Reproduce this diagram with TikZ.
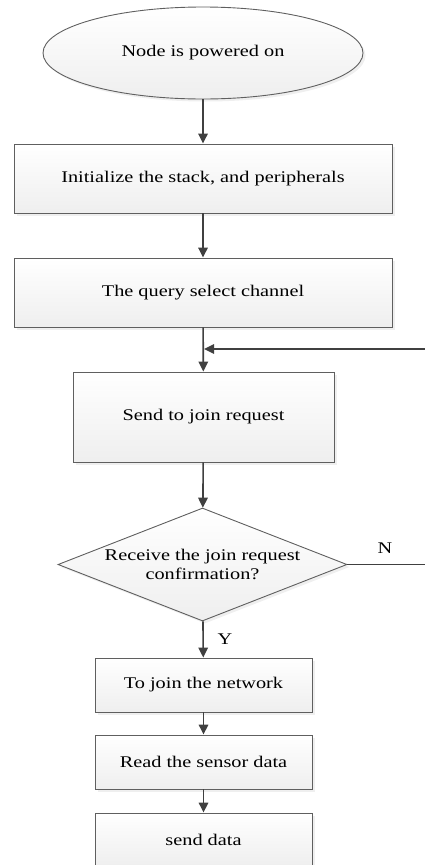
\documentclass[tikz,border=0pt]{standalone}
\usepackage{fontspec}
\setmainfont{Liberation Serif}[FakeStretch=1.245]
\usepackage{tikz}
\usetikzlibrary{shapes.geometric}
\usetikzlibrary{arrows.meta}
\usetikzlibrary{shadows}

\definecolor{linegray}{HTML}{404040}
\definecolor{bordergray}{HTML}{5F5F5F}

\begin{document}
\begin{tikzpicture}[x=1pt,y=-1pt,
    every node/.style={font=\fontsize{16.3}{19}\selectfont},
    box/.style={rectangle, draw=bordergray, line width=0.9pt, inner sep=0pt,
                top color=white, bottom color=gray!13,
                drop shadow={shadow xshift=2.5pt, shadow yshift=-2.5pt, fill=gray!25}},
    startnode/.style={box, ellipse},
    decision/.style={box, diamond, aspect=2.56, align=center},
    arr/.style={draw=linegray, line width=1.6pt, -{Triangle[width=9.5pt,length=10pt]}},
    plain/.style={draw=linegray, line width=1.6pt}]
            \useasboundingbox (0,0) rectangle (425,865);
            \clip (0,0) rectangle (425,865);
            \node[startnode, minimum width=320pt, minimum height=92pt] (start) at (203,53) {Node is powered on};
            \node[box, minimum width=378pt, minimum height=69pt] (init) at (203,178.5) {Initialize the stack, and peripherals};
            \node[box, minimum width=378pt, minimum height=69pt] (query) at (203,292.5) {The query select channel};
            \node[box, minimum width=261pt, minimum height=90pt] (join) at (203.5,417) {Send to join request};
            \node[decision, minimum width=289pt, minimum height=113pt, inner sep=0pt] (check) at (202.5,564.5) {Receive the join request\\confirmation?};
            \node[box, minimum width=217pt, minimum height=54pt] (net) at (203.5,685) {To join the network};
            \node[box, minimum width=217pt, minimum height=54pt] (read) at (203.5,762) {Read the sensor data};
            \node[box, minimum width=217pt, minimum height=54pt] (senddata) at (203.5,840) {send data};
            \coordinate (back) at (425,349);
            \coordinate (noend) at (425,564.5);
            \draw[arr] (start) -- (init);
            \draw[arr] (init) -- (query);
            \draw[arr] (query) -- (join);
            \draw[arr] (back) -- ([xshift=1pt]back -| query.south);
            \draw[arr] (join) -- (check);
            \draw[plain] (check.east) -- (noend);
            \draw[arr] (check) -- (net);
            \draw[arr] (net) -- (read);
            \draw[arr] (read) -- (senddata);
            \node (nlabel) at (385,548) {N};
            \node (ylabel) at (225,639) {Y};
        \end{tikzpicture}
\end{document}
